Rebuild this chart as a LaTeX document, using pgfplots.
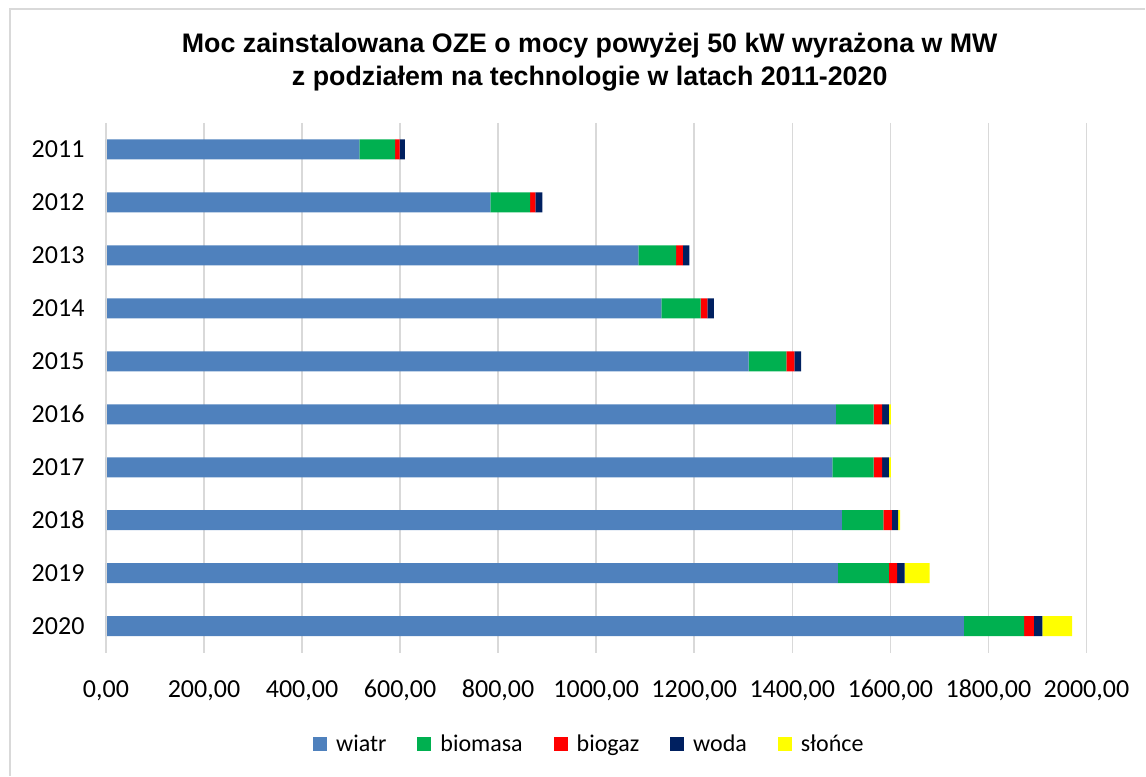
\documentclass[border=0pt]{standalone}
\usepackage{fontspec}
\setmainfont{Carlito}
\newfontfamily\arialfont{Liberation Sans}
\usepackage{pgfplots}
\pgfplotsset{compat=1.18}
\definecolor{cwiatr}{HTML}{4F81BD}
\definecolor{cbiomasa}{HTML}{00B050}
\definecolor{cbiogaz}{HTML}{FF0000}
\definecolor{cwoda}{HTML}{002060}
\definecolor{cslonce}{HTML}{FFFF00}
\definecolor{cgrid}{HTML}{D9D9D9}
\begin{document}
\begin{tikzpicture}[x=1pt,y=1pt]
\path (0,0) rectangle (1146,776);
\draw[cgrid, line width=1.2pt] (10,0) -- (10,767) -- (1146,767);
\node[align=center, font=\arialfont\bfseries\fontsize{26.8}{33}\selectfont] at (590,714)
  {Moc zainstalowana OZE o mocy powyżej 50 kW wyrażona w MW\\z podziałem na technologie w latach 2011-2020};
\begin{axis}[
  at={(106pt,123pt)}, anchor=south west,
  scale only axis, width=981pt, height=530pt,
  xbar stacked, bar width=20pt,
  xmin=0, xmax=2000, xtick={0,200,...,2000},
  ymin=2010.5, ymax=2020.5, y dir=reverse,
  ytick={2011,...,2020},
  yticklabel style={/pgf/number format/1000 sep={}, xshift=-18pt},
  /pgf/number format/assume math mode=true,
  xticklabel style={/pgf/number format/fixed, /pgf/number format/fixed zerofill,
     /pgf/number format/precision=2, /pgf/number format/use comma,
     /pgf/number format/1000 sep={}, yshift=-24pt},
  tick label style={font=\fontsize{26}{30}\selectfont},
  xtick style={draw=none}, ytick style={draw=none},
  major tick length=0pt,
  xmajorgrids, grid style={cgrid, line width=1.5pt},
  axis line style={draw=none},
  legend columns=-1,
  legend style={draw=none, at={(0.493,-0.172)}, anchor=center, font=\fontsize{24}{28}\selectfont,
    /tikz/every odd column/.append style={column sep=7pt},
    /tikz/every even column/.append style={column sep=29pt}},
  legend image code/.code={\fill[#1] (0pt,-7pt) rectangle (14pt,7pt);},
]
\draw[cgrid, line width=1.5pt] (axis cs:0,2010.5) -- (axis cs:0,2020.5);
\addplot[fill=cwiatr, draw=none] coordinates {(517,2011) (784,2012) (1086,2013) (1133,2014) (1311,2015) (1489,2016) (1482,2017) (1501,2018) (1493,2019) (1750,2020)};
\addplot[fill=cbiomasa, draw=none] coordinates {(73,2011) (81,2012) (77,2013) (80,2014) (77,2015) (77,2016) (84,2017) (85,2018) (104,2019) (123,2020)};
\addplot[fill=cbiogaz, draw=none] coordinates {(9,2011) (11,2012) (14,2013) (14,2014) (16,2015) (17,2016) (17,2017) (17,2018) (17,2019) (20,2020)};
\addplot[fill=cwoda, draw=none] coordinates {(11,2011) (14,2012) (13,2013) (13,2014) (14,2015) (14,2016) (14,2017) (13,2018) (15,2019) (17,2020)};
\addplot[fill=cslonce, draw=none] coordinates {(0,2011) (0,2012) (0,2013) (0,2014) (0,2015) (4,2016) (4,2017) (4,2018) (51,2019) (61,2020)};
\legend{wiatr, biomasa, biogaz, woda, słońce}
\end{axis}
\end{tikzpicture}
\end{document}
